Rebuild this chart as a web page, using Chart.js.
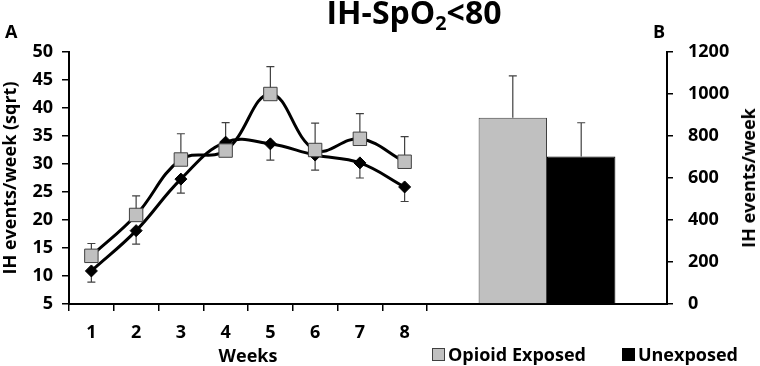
<!DOCTYPE html>
<html>
<head>
<meta charset="utf-8">
<script src="https://cdn.jsdelivr.net/npm/chart.js@4.4.1/dist/chart.umd.min.js"></script>
<style>
  body { margin: 0; background: #fff; width: 760px; height: 366px; position: relative; overflow: hidden; font-family: "Open Sans", sans-serif; }
  canvas { position: absolute; top: 0; }
  #left { left: 0; }
  #right { left: 420px; }
  .lbl { position: absolute; font-weight: bold; color: #000; line-height: 1; white-space: nowrap; }
  #title { left: 314px; width: 200px; top: -4px; font-size: 32px; text-align: center; }
  #title sub { font-size: 0.62em; vertical-align: -0.3em; line-height: 0; }
  #ytitle2 { left: 748px; top: 178px; font-size: 18px; transform: translate(-50%, -50%) rotate(-90deg); }
  #legend { position: absolute; left: 432px; top: 343px; display: flex; align-items: center; gap: 36px; font-weight: bold; font-size: 18px; line-height: 22px; }
  #legend .item { display: flex; align-items: center; gap: 3px; }
  #legend .box { width: 13px; height: 13px; box-sizing: border-box; }
</style>
</head>
<body>
<canvas id="left" width="440" height="366"></canvas>
<canvas id="right" width="340" height="366"></canvas>
<div class="lbl" id="title">IH-SpO<sub>2</sub>&lt;80</div>
<div class="lbl" style="left:5px;top:22px;font-size:18px">A</div>
<div class="lbl" style="left:653px;top:22px;font-size:18px">B</div>
<div class="lbl" id="ytitle2">IH events/week</div>
<div id="legend"></div>
<script>
// panel A: weekly values (sqrt), panel B: totals
const weeks = ['1', '2', '3', '4', '5', '6', '7', '8']
const opioidWeekly = [13.6, 20.9, 30.8, 32.4, 42.5, 32.5, 34.5, 30.4]
const opioidWeeklyErr = [2.2, 3.4, 4.6, 5.0, 4.9, 4.8, 4.5, 4.5]
const unexposedWeekly = [10.9, 18.1, 27.3, 33.9, 33.6, 31.6, 30.2, 25.9]
const unexposedWeeklyErr = [2.0, 2.4, 2.5, 2.3, 2.9, 2.7, 2.7, 2.6]

const groups = ['Opioid Exposed', 'Unexposed']
const totalMeans = [887, 702]
const totalErr = [199, 161]

const GRAY = '#c0c0c0'
const DARK = '#404040'
const groupFill = [GRAY, '#000']
const groupBorder = [DARK, '#000']

Chart.defaults.font.family = '"Open Sans", sans-serif'
Chart.defaults.font.weight = 'bold'
Chart.defaults.color = '#000'

// error bars: dataset.errUp / dataset.errDown, drawn under the markers
const errorBars = {
  id: 'errorBars',
  beforeDatasetsDraw(chart) {
    const ctx = chart.ctx
    const yScale = chart.scales.y
    ctx.save()
    ctx.strokeStyle = DARK
    ctx.lineWidth = 1.2
    chart.data.datasets.forEach((ds, di) => {
      const meta = chart.getDatasetMeta(di)
      meta.data.forEach((el, i) => {
        const v = ds.data[i]
        const draw = (end) => {
          const y0 = yScale.getPixelForValue(v)
          const y1 = yScale.getPixelForValue(end)
          ctx.beginPath()
          ctx.moveTo(el.x, y0)
          ctx.lineTo(el.x, y1)
          ctx.moveTo(el.x - 4, y1)
          ctx.lineTo(el.x + 4, y1)
          ctx.stroke()
        }
        if (ds.errUp) draw(v + ds.errUp[i])
        if (ds.errDown) draw(v - ds.errDown[i])
      })
    })
    ctx.restore()
  }
}

new Chart(document.getElementById('left'), {
  type: 'line',
  data: {
    labels: weeks,
    datasets: [
      {
        label: groups[0],
        data: opioidWeekly,
        errUp: opioidWeeklyErr,
        borderColor: '#000',
        borderWidth: 3,
        tension: 0.4,
        pointStyle: 'rect',
        pointRadius: 9.5,
        pointBackgroundColor: GRAY,
        pointBorderColor: DARK,
        pointBorderWidth: 1
      },
      {
        label: groups[1],
        data: unexposedWeekly,
        errDown: unexposedWeeklyErr,
        borderColor: '#000',
        borderWidth: 3,
        tension: 0.4,
        pointStyle: 'rectRot',
        pointRadius: 6,
        pointBackgroundColor: '#000',
        pointBorderColor: '#000',
        pointBorderWidth: 1
      }
    ]
  },
  options: {
    responsive: false,
    animation: false,
    layout: { padding: { top: 52, right: 13, left: 0, bottom: 0 } },
    plugins: { legend: { display: false }, tooltip: { enabled: false } },
    scales: {
      x: {
        type: 'category',
        offset: true,
        grid: { offset: true, drawOnChartArea: false, tickLength: 7, color: '#000', lineWidth: 1.5 },
        border: { color: '#000', width: 2 },
        ticks: { font: { size: 18 }, padding: 11 },
        title: { display: true, text: 'Weeks', font: { size: 18, lineHeight: 1 }, padding: { top: 0, bottom: 0 } },
        afterFit: (s) => { s.height = 62 }
      },
      y: {
        min: 5,
        max: 50,
        ticks: { stepSize: 5, font: { size: 18 }, padding: 9 },
        grid: { drawOnChartArea: false, tickLength: 7, color: '#000', lineWidth: 1.5 },
        border: { color: '#000', width: 2 },
        title: { display: true, text: 'IH events/week (sqrt)', font: { size: 18 }, padding: 0 },
        afterFit: (s) => { s.width = 69 }
      }
    }
  },
  plugins: [errorBars]
})

new Chart(document.getElementById('right'), {
  type: 'bar',
  data: {
    labels: [''],
    datasets: groups.map((g, i) => ({
      label: g,
      data: [totalMeans[i]],
      errUp: [totalErr[i]],
      backgroundColor: groupFill[i],
      borderColor: groupBorder[i],
      borderWidth: 1,
      categoryPercentage: 0.57,
      barPercentage: 1
    }))
  },
  options: {
    responsive: false,
    animation: false,
    layout: { padding: { top: 52, right: 0, left: 7, bottom: 60 } },
    plugins: { legend: { display: false }, tooltip: { enabled: false } },
    scales: {
      x: {
        grid: { display: false, drawTicks: false },
        border: { color: '#000', width: 2 },
        ticks: { display: false },
        afterFit: (s) => { s.height = 2 }
      },
      y: {
        position: 'right',
        min: 0,
        max: 1200,
        ticks: { stepSize: 200, font: { size: 18 }, padding: 15, callback: (v) => String(v) },
        grid: { drawOnChartArea: false, tickLength: 6, color: '#000', lineWidth: 1.5 },
        border: { color: '#000', width: 2 },
        afterFit: (s) => { s.width = 93 }
      }
    }
  },
  plugins: [errorBars]
})

// legend below panel B
const legend = document.getElementById('legend')
groups.forEach((g, i) => {
  const item = document.createElement('div')
  item.className = 'item'
  const box = document.createElement('span')
  box.className = 'box'
  box.style.background = groupFill[i]
  box.style.border = '1px solid ' + groupBorder[i]
  const txt = document.createElement('span')
  txt.textContent = g
  item.append(box, txt)
  legend.append(item)
})
</script>
</body>
</html>
